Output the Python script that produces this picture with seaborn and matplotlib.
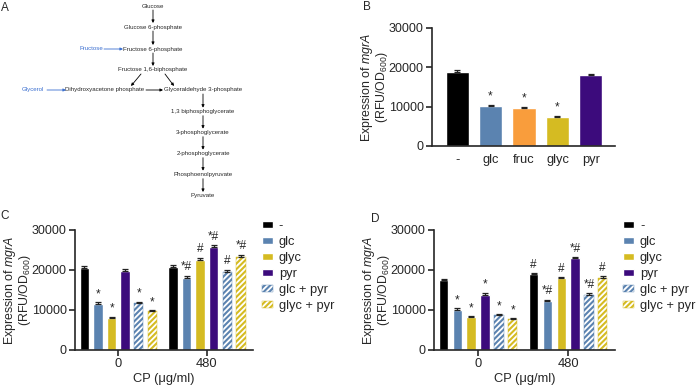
import numpy as np
import pandas as pd
import seaborn as sns
import matplotlib.pyplot as plt

# ---- data ----
# panel B
b_labels = ['-', 'glc', 'fruc', 'glyc', 'pyr']
b_values = [18800, 10100, 9750, 7400, 18000]
b_err = [400, 350, 200, 250, 400]
b_sig = ['', '*', '*', '*', '']

# panels C and D
cp_doses = ['0', '480']
treatments = ['-', 'glc', 'glyc', 'pyr', 'glc + pyr', 'glyc + pyr']

c_values_0 = [20400, 11400, 7900, 19800, 11800, 9750]
c_values_480 = [20800, 18100, 22500, 25800, 19600, 23300]
c_err_0 = [500, 500, 400, 500, 200, 150]
c_err_480 = [400, 500, 600, 400, 500, 500]
c_sig_0 = ['', '*', '*', '', '*', '*']
c_sig_480 = ['', '*#', '#', '*#', '#', '*#']

d_values_0 = [17500, 10000, 8300, 13700, 8700, 7650]
d_values_480 = [18900, 12200, 18000, 23000, 13700, 17900]
d_err_0 = [250, 400, 100, 500, 200, 250]
d_err_480 = [300, 350, 200, 200, 500, 600]
d_sig_0 = ['', '*', '*', '*', '*', '*']
d_sig_480 = ['#', '*#', '#', '*#', '*#', '#']

# panel A pathway
path_nodes = ['Glucose', 'Glucose 6-phosphate', 'Fructose 6-phosphate',
              'Fructose 1,6-biphosphate']
lower_nodes = ['Glyceraldehyde 3-phosphate', '1,3 biphosphoglycerate',
               '3-phosphoglycerate', '2-phosphoglycerate',
               'Phosphoenolpyruvate', 'Pyruvate']

colors = {'-': '#000000', 'glc': '#5b83b0', 'fruc': '#f99d3c',
          'glyc': '#d5bb22', 'pyr': '#3c0b7c',
          'glc + pyr': '#5b83b0', 'glyc + pyr': '#d5bb22'}

sns.set_style('ticks')
plt.rcParams['font.family'] = ['Liberation Sans', 'DejaVu Sans']
plt.rcParams['mathtext.fontset'] = 'custom'
plt.rcParams['mathtext.rm'] = 'Liberation Sans'
plt.rcParams['mathtext.it'] = 'Liberation Sans:italic'
plt.rcParams['hatch.linewidth'] = 1.5

FS = 9.3
ylab = 'Expression of $\\it{mgrA}$\n(RFU/OD$_{600}$)'

fig = plt.figure(figsize=(7, 3.86), dpi=100)

# ---- panel A (diagram in pixel coords) ----
axA = fig.add_axes([0, 0, 1, 1], zorder=-1)
axA.set_xlim(0, 700)
axA.set_ylim(386, 0)
axA.axis('off')
fa = 4.4
arr = dict(arrowstyle='-|>', lw=0.6, color='black', mutation_scale=4,
           shrinkA=0, shrinkB=0)
arr_b = dict(arr, color='#3b6fd0')
top_y = [6, 27, 49, 70]
for name, y in zip(path_nodes, top_y):
    axA.text(153, y, name, ha='center', va='center', fontsize=fa)
for y0, y1 in zip(top_y[:-1], top_y[1:]):
    axA.annotate('', xy=(153, y1 - 4), xytext=(153, y0 + 4), arrowprops=arr)
low_y = [90, 111.7, 132.7, 153.7, 174.7, 196]
for name, y in zip(lower_nodes, low_y):
    axA.text(203, y, name, ha='center', va='center', fontsize=fa)
for y0, y1 in zip(low_y[:-1], low_y[1:]):
    axA.annotate('', xy=(203, y1 - 4), xytext=(203, y0 + 4), arrowprops=arr)
axA.text(105, 90, 'Dihydroxyacetone phosphate', ha='center', va='center', fontsize=fa)
axA.text(91, 49, 'Fructose', ha='center', va='center', fontsize=fa, color='#3b6fd0')
axA.text(33, 90, 'Glycerol', ha='center', va='center', fontsize=fa, color='#3b6fd0')
axA.annotate('', xy=(123, 49), xytext=(104, 49), arrowprops=arr_b)
axA.annotate('', xy=(66, 90), xytext=(47, 90), arrowprops=arr_b)
axA.annotate('', xy=(163, 90), xytext=(146, 90), arrowprops=arr)
axA.annotate('', xy=(131, 86), xytext=(141, 74), arrowprops=arr)
axA.annotate('', xy=(174, 86), xytext=(165, 74), arrowprops=arr)
for lab, x, y in [('A', 5, 8), ('B', 367, 7), ('C', 5, 216), ('D', 375, 219)]:
    axA.text(x, y, lab, ha='center', va='center', fontsize=8.5)


def add_err_sig(ax, xs, vals, errs, sigs):
    ax.errorbar(xs, vals, yerr=[[0] * len(vals), errs], fmt='none',
                ecolor='#222222', elinewidth=0.9, capsize=2.2, capthick=0.9,
                zorder=3)
    for x, v, e, s in zip(xs, vals, errs, sigs):
        if s:
            ax.text(x, v + e + 600, s, ha='center', va='bottom', fontsize=8.5)


def style_axis(ax, width_px):
    sns.despine(ax=ax)
    for sp in ['left', 'bottom']:
        ax.spines[sp].set_linewidth(1.2)
    ax.set_ylim(0, 30000)
    ax.set_yticks([0, 10000, 20000, 30000])
    ax.tick_params(axis='both', labelsize=9, width=1.2, length=4, pad=2)
    ax.set_ylabel(ylab, fontsize=8.9, linespacing=0.92)
    ax.yaxis.set_label_coords(-42 / width_px, 0.5)


# ---- panel B ----
axB = fig.add_axes([432 / 700, 1 - 146 / 386, 183 / 700, 118 / 386])
dfB = pd.DataFrame({'treat': b_labels, 'value': b_values})
sns.barplot(data=dfB, x='treat', y='value', hue='treat', palette=colors,
            width=0.69, saturation=1, errorbar=None, legend=False, ax=axB)
xsB = [p.get_x() + p.get_width() / 2 for c in axB.containers for p in c]
xsB = sorted(xsB)
add_err_sig(axB, xsB, b_values, b_err, b_sig)
style_axis(axB, 183)
axB.set_xlim(-0.75, 4.72)
axB.set_xlabel('')
axB.tick_params(axis='x', length=0, pad=6, labelsize=FS)


def grouped(ax, v0, v1, e0, e1, s0, s1, leg_x, width_px):
    df = pd.DataFrame({'CP': np.repeat(cp_doses, len(treatments)),
                       'treat': treatments * 2, 'value': v0 + v1})
    sns.barplot(data=df, x='CP', y='value', hue='treat', hue_order=treatments,
                palette=colors, width=0.92, gap=0.31, saturation=1,
                errorbar=None, ax=ax, legend=False)
    for i, cont in enumerate(ax.containers):
        if '+' in treatments[i]:
            for p in cont:
                p.set_facecolor('white')
                p.set_edgecolor(colors[treatments[i]])
                p.set_linewidth(0.3)
                p.set_hatch('//////')
    for j in range(2):
        xs = [ax.containers[i][j].get_x() + ax.containers[i][j].get_width() / 2
              for i in range(len(treatments))]
        add_err_sig(ax, xs, [v0, v1][j], [e0, e1][j], [s0, s1][j])
    style_axis(ax, width_px)
    ax.set_xlim(-0.49, 1.52)
    ax.tick_params(axis='x', labelsize=FS)
    ax.set_xlabel('CP (μg/ml)', fontsize=FS, labelpad=2)
    handles = [c[0] for c in ax.containers]
    ax.legend(handles, treatments, loc='upper left', bbox_to_anchor=(leg_x, 1.08),
              frameon=False, fontsize=FS, handlelength=0.85, handleheight=0.5,
              handletextpad=0.45, labelspacing=0.3, borderpad=0, borderaxespad=0)


axC = fig.add_axes([75 / 700, 1 - 350 / 386, 178 / 700, 120 / 386])
grouped(axC, c_values_0, c_values_480, c_err_0, c_err_480, c_sig_0, c_sig_480, 1.05, 178)

axD = fig.add_axes([434 / 700, 1 - 350 / 386, 181 / 700, 120 / 386])
grouped(axD, d_values_0, d_values_480, d_err_0, d_err_480, d_sig_0, d_sig_480, 1.045, 181)

fig.savefig('out.png', dpi=100)
